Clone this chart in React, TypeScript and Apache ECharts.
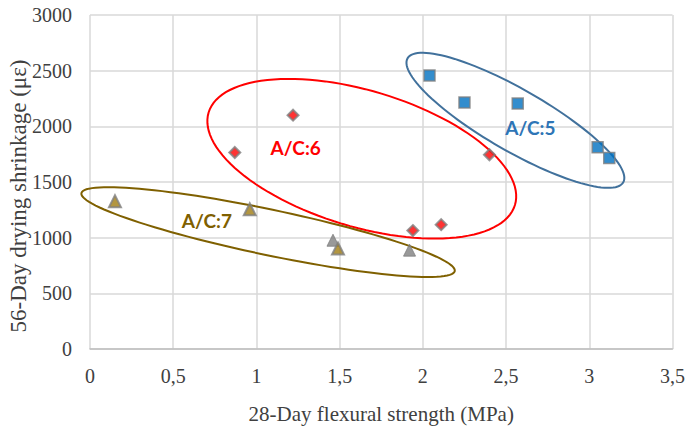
import React, { useEffect, useRef } from "react";
import * as echarts from "echarts";

// A/C:5 (squares)
const ac5X = [2.04, 2.25, 2.57, 3.05, 3.12];
const ac5Y = [2457, 2214, 2205, 1812, 1716];
// A/C:6 (diamonds)
const ac6X = [0.87, 1.22, 2.4, 1.94, 2.11];
const ac6Y = [1765, 2100, 1745, 1064, 1117];
// A/C:7 (triangles)
const ac7X = [0.15, 0.96, 1.46, 1.49, 1.92];
const ac7Y = [1328, 1255, 977, 903, 888];
const ac7Gray = [false, false, true, false, true];

const xTicks = [0, 0.5, 1, 1.5, 2, 2.5, 3, 3.5];
const yTicks = [0, 500, 1000, 1500, 2000, 2500, 3000];

// Group ellipses: label, centre (data), label position (data)
const groupNames = ["A/C:5", "A/C:6", "A/C:7"];
const groupCenterX = [2.556, 1.633, 1.07];
const groupCenterY = [2054, 1709, 1050];
const labelX = [2.646, 1.236, 0.702];
const labelY = [1988, 1812, 1152];

// ellipse shape in pixels (semi-axes, rotation degrees) and colours
const ellipseStyle = [
  { a: 124.4, b: 30.9, rot: 29.9, color: "#41719C", text: "#2E75B6" },
  { a: 160, b: 68, rot: 16.8, color: "#FF0000", text: "#FF0000" },
  { a: 190.7, b: 22.8, rot: 11.8, color: "#7F6000", text: "#7F6000" },
];

export default function App() {
  const ref = useRef<HTMLDivElement>(null);
  useEffect(() => {
    const chart = echarts.init(ref.current!, undefined, { renderer: "svg" });
    const serif = "Times New Roman, Liberation Serif, DejaVu Serif, serif";
    const ellipseData = groupNames.map((n, i) => [
      groupCenterX[i],
      groupCenterY[i],
      labelX[i],
      labelY[i],
      i,
    ]);
    chart.setOption({
      animation: false,
      backgroundColor: "#ffffff",
      textStyle: { fontFamily: serif },
      grid: { left: 90, right: 15, top: 15, bottom: 73, containLabel: false },
      graphic: [
        {
          type: "text",
          x: 18,
          y: 196,
          rotation: Math.PI / 2,
          style: {
            text: "56-Day drying shrinkage (\u03bc\u03b5)",
            fontFamily: serif,
            fontSize: 23,
            fill: "#404040",
            align: "center",
            verticalAlign: "middle",
          },
        },
      ],
      xAxis: {
        type: "value",
        min: xTicks[0],
        max: xTicks[xTicks.length - 1],
        interval: 0.5,
        name: "28-Day flexural strength (MPa)",
        nameLocation: "middle",
        nameGap: 54,
        nameTextStyle: { fontFamily: serif, fontSize: 21, color: "#404040" },
        axisLine: { show: true, lineStyle: { color: "#BFBFBF", width: 1.5 } },
        axisTick: { show: false },
        axisLabel: {
          fontFamily: serif,
          fontSize: 20,
          color: "#404040",
          margin: 17,
          formatter: (v: number) => String(v).replace(".", ","),
        },
        splitLine: { show: true, lineStyle: { color: "#D9D9D9", width: 1.5 } },
      },
      yAxis: {
        type: "value",
        min: yTicks[0],
        max: yTicks[yTicks.length - 1],
        interval: 500,
        axisLine: { show: false },
        axisTick: { show: false },
        axisLabel: {
          fontFamily: serif,
          fontSize: 20,
          color: "#404040",
          margin: 18,
          formatter: (v: number) => String(v),
        },
        splitLine: { show: true, lineStyle: { color: "#D9D9D9", width: 1.5 } },
      },
      series: [
        {
          type: "custom",
          name: "ellipses",
          data: ellipseData,
          z: 1,
          renderItem: (params: any, api: any) => {
            const idx = api.value(4);
            const st = ellipseStyle[idx];
            const c = api.coord([api.value(0), api.value(1)]);
            const lp = api.coord([api.value(2), api.value(3)]);
            const th = (st.rot * Math.PI) / 180;
            const pts: number[][] = [];
            const N = 120;
            for (let k = 0; k < N; k++) {
              const t = (2 * Math.PI * k) / N;
              const ex = st.a * Math.cos(t);
              const ey = st.b * Math.sin(t);
              pts.push([
                c[0] + ex * Math.cos(th) - ey * Math.sin(th),
                c[1] + ex * Math.sin(th) + ey * Math.cos(th),
              ]);
            }
            return {
              type: "group",
              children: [
                {
                  type: "polygon",
                  shape: { points: pts },
                  style: { fill: "none", stroke: st.color, lineWidth: 2 },
                },
                {
                  type: "text",
                  x: lp[0],
                  y: lp[1],
                  style: {
                    text: groupNames[idx],
                    fill: st.text,
                    fontFamily: "Lato",
                    fontWeight: "bold",
                    fontSize: 19,
                    align: "center",
                    verticalAlign: "middle",
                  },
                },
              ],
            };
          },
        },
        {
          type: "scatter",
          name: "A/C:5",
          symbol: "rect",
          symbolSize: 11,
          z: 3,
          itemStyle: { color: "#0070C0", borderColor: "#7F7F7F", borderWidth: 1.5 },
          data: ac5X.map((x, i) => [x, ac5Y[i]]),
        },
        {
          type: "scatter",
          name: "A/C:6",
          symbol: "diamond",
          symbolSize: 11,
          z: 3,
          itemStyle: { color: "#FF0000", borderColor: "#7F7F7F", borderWidth: 2 },
          data: ac6X.map((x, i) => [x, ac6Y[i]]),
        },
        {
          type: "scatter",
          name: "A/C:7",
          symbol: "triangle",
          symbolSize: 12,
          z: 3,
          data: ac7X.map((x, i) => ({
            value: [x, ac7Y[i]],
            itemStyle: ac7Gray[i]
              ? { color: "#808080", borderColor: "#808080", borderWidth: 1 }
              : { color: "#A07C10", borderColor: "#808080", borderWidth: 2 },
          })),
        },
      ],
    });
    return () => chart.dispose();
  }, []);
  return (
    <div
      ref={ref}
      style={{ position: "fixed", left: 0, top: 0, width: 688, height: 429 }}
    />
  );
}
